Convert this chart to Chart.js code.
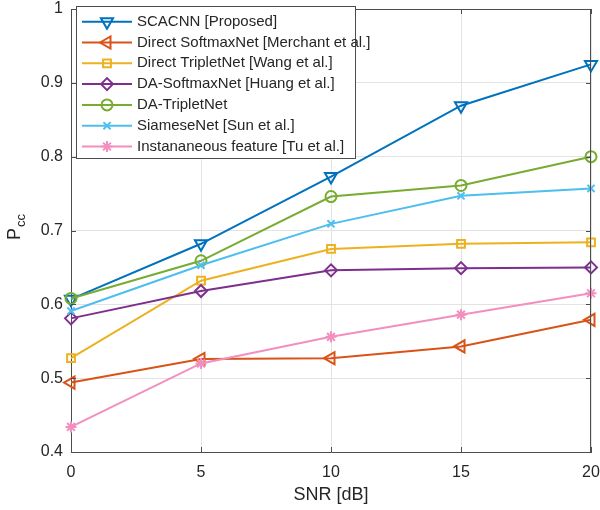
<!DOCTYPE html>
<html>
<head>
<meta charset="utf-8">
<script src="https://cdn.jsdelivr.net/npm/chart.js"></script>
<style>
  body { margin: 0; background: #fff; }
  canvas { display: block; }
</style>
</head>
<body>
<canvas id="pccChart" width="600" height="510"></canvas>
<script>
const snr = [0, 5, 10, 15, 20];
const yTicks = [0.4, 0.5, 0.6, 0.7, 0.8, 0.9, 1];

const seriesNames = [
  "SCACNN [Proposed]",
  "Direct SoftmaxNet [Merchant et al.]",
  "Direct TripletNet [Wang et al.]",
  "DA-SoftmaxNet [Huang et al.]",
  "DA-TripletNet",
  "SiameseNet [Sun et al.]",
  "Instananeous feature [Tu et al.]"
];

const scacnn = [0.607, 0.682, 0.773, 0.869, 0.925];
const directSoftmax = [0.494, 0.526, 0.527, 0.543, 0.579];
const directTriplet = [0.527, 0.632, 0.675, 0.682, 0.684];
const daSoftmax = [0.581, 0.618, 0.646, 0.649, 0.650];
const daTriplet = [0.608, 0.659, 0.746, 0.761, 0.800];
const siamese = [0.591, 0.653, 0.709, 0.747, 0.757];
const instant = [0.434, 0.520, 0.556, 0.586, 0.615];

const allValues = [scacnn, directSoftmax, directTriplet, daSoftmax, daTriplet, siamese, instant];

const colors = ["#0072bd", "#d95319", "#edb120", "#7e2f8e", "#77ac30", "#4dbeee", "#f28fbf"];
const markers = [
  { style: "triangle", rotation: 180, radius: 7 },
  { style: "triangle", rotation: -90, radius: 7 },
  { style: "rect", rotation: 0, radius: 5.5 },
  { style: "rectRot", rotation: 0, radius: 6 },
  { style: "circle", rotation: 0, radius: 5.5 },
  { style: "crossRot", rotation: 0, radius: 5 },
  { style: "star", rotation: 0, radius: 5.5 }
];

const textColor = "#262626";
const axisColor = "#4d4d4d";

const datasets = allValues.map((vals, i) => ({
  label: seriesNames[i],
  data: vals.map((v, j) => ({ x: snr[j], y: v })),
  borderColor: colors[i],
  borderWidth: 2,
  pointStyle: markers[i].style,
  pointRotation: markers[i].rotation,
  pointRadius: markers[i].radius,
  pointBorderWidth: 2,
  pointBorderColor: colors[i],
  pointBackgroundColor: "rgba(0,0,0,0)",
  tension: 0,
  clip: false,
  order: allValues.length - i
}));

// box, inner ticks, axis titles and legend in MATLAB style
const matlabAxes = {
  id: "matlabAxes",
  afterDraw(chart) {
    const ctx = chart.ctx;
    const a = chart.chartArea;
    const xs = chart.scales.x, ys = chart.scales.y;
    ctx.save();
    ctx.strokeStyle = axisColor;
    ctx.lineWidth = 1;
    ctx.beginPath();
    ctx.moveTo(a.left, a.top + 0.5); ctx.lineTo(a.right, a.top + 0.5);
    ctx.moveTo(a.right - 0.5, a.top); ctx.lineTo(a.right - 0.5, a.bottom);
    snr.forEach(v => {
      const px = Math.round(xs.getPixelForValue(v)) + 0.5;
      ctx.moveTo(px, a.bottom); ctx.lineTo(px, a.bottom - 5);
      ctx.moveTo(px, a.top); ctx.lineTo(px, a.top + 5);
    });
    yTicks.forEach(v => {
      const py = Math.round(ys.getPixelForValue(v)) + 0.5;
      ctx.moveTo(a.left, py); ctx.lineTo(a.left + 5, py);
      ctx.moveTo(a.right, py); ctx.lineTo(a.right - 5, py);
    });
    ctx.stroke();

    // x title
    ctx.fillStyle = textColor;
    ctx.font = "18px 'Liberation Sans', Arial, sans-serif";
    ctx.textAlign = "center";
    ctx.textBaseline = "middle";
    ctx.fillText("SNR [dB]", (a.left + a.right) / 2, 495);

    // y title with subscript
    ctx.save();
    ctx.translate(20, 240);
    ctx.rotate(-Math.PI / 2);
    ctx.textAlign = "left";
    ctx.textBaseline = "alphabetic";
    ctx.font = "18px 'Liberation Sans', Arial, sans-serif";
    ctx.fillText("P", 0, 0);
    const pw = ctx.measureText("P").width;
    ctx.font = "13px 'Liberation Sans', Arial, sans-serif";
    ctx.fillText("cc", pw + 1, 5);
    ctx.restore();

    // legend
    const lx = 76, ly = 6, lw = 279, lh = 152;
    ctx.fillStyle = "#ffffff";
    ctx.fillRect(lx, ly, lw, lh);
    ctx.strokeStyle = axisColor;
    ctx.strokeRect(lx + 0.5, ly + 0.5, lw, lh);
    ctx.font = "15px 'Liberation Sans', Arial, sans-serif";
    ctx.textBaseline = "middle";
    ctx.textAlign = "left";
    seriesNames.forEach((name, i) => {
      const y = 21.7 + i * 20.8;
      ctx.strokeStyle = colors[i];
      ctx.lineWidth = 2;
      ctx.beginPath();
      ctx.moveTo(82, y); ctx.lineTo(132, y);
      ctx.stroke();
      ctx.fillStyle = "rgba(0,0,0,0)";
      if (Chart.helpers && Chart.helpers.drawPoint) {
        Chart.helpers.drawPoint(ctx, {
          pointStyle: markers[i].style,
          rotation: markers[i].rotation,
          radius: markers[i].radius,
          borderWidth: 2
        }, 107, y);
      }
      ctx.fillStyle = textColor;
      ctx.fillText(name, 137, y);
    });
    ctx.restore();
  }
};

new Chart(document.getElementById("pccChart").getContext("2d"), {
  type: "line",
  data: { datasets },
  options: {
    responsive: false,
    animation: false,
    devicePixelRatio: 1,
    layout: { padding: { top: 3, right: 8, left: 0, bottom: 0 } },
    plugins: { legend: { display: false }, tooltip: { enabled: false } },
    scales: {
      x: {
        type: "linear",
        min: 0,
        max: 20,
        afterBuildTicks: s => { s.ticks = snr.map(v => ({ value: v })); },
        afterFit: s => { s.height = 58; s.paddingLeft = 0; s.paddingRight = 0; },
        grid: { color: "#e3e3e3", drawTicks: false },
        border: { color: axisColor, width: 1 },
        ticks: {
          padding: 11,
          color: textColor,
          font: { family: "'Liberation Sans', Arial, sans-serif", size: 16 },
          maxRotation: 0
        }
      },
      y: {
        min: 0.4,
        max: 1,
        afterBuildTicks: s => { s.ticks = yTicks.map(v => ({ value: v })); },
        afterFit: s => { s.width = 71; s.paddingTop = 0; s.paddingBottom = 0; },
        grid: { color: "#e3e3e3", drawTicks: false },
        border: { color: axisColor, width: 1 },
        ticks: {
          padding: 8,
          color: textColor,
          font: { family: "'Liberation Sans', Arial, sans-serif", size: 16 },
          callback: v => String(+v.toFixed(1))
        }
      }
    }
  },
  plugins: [matlabAxes]
});
</script>
</body>
</html>
